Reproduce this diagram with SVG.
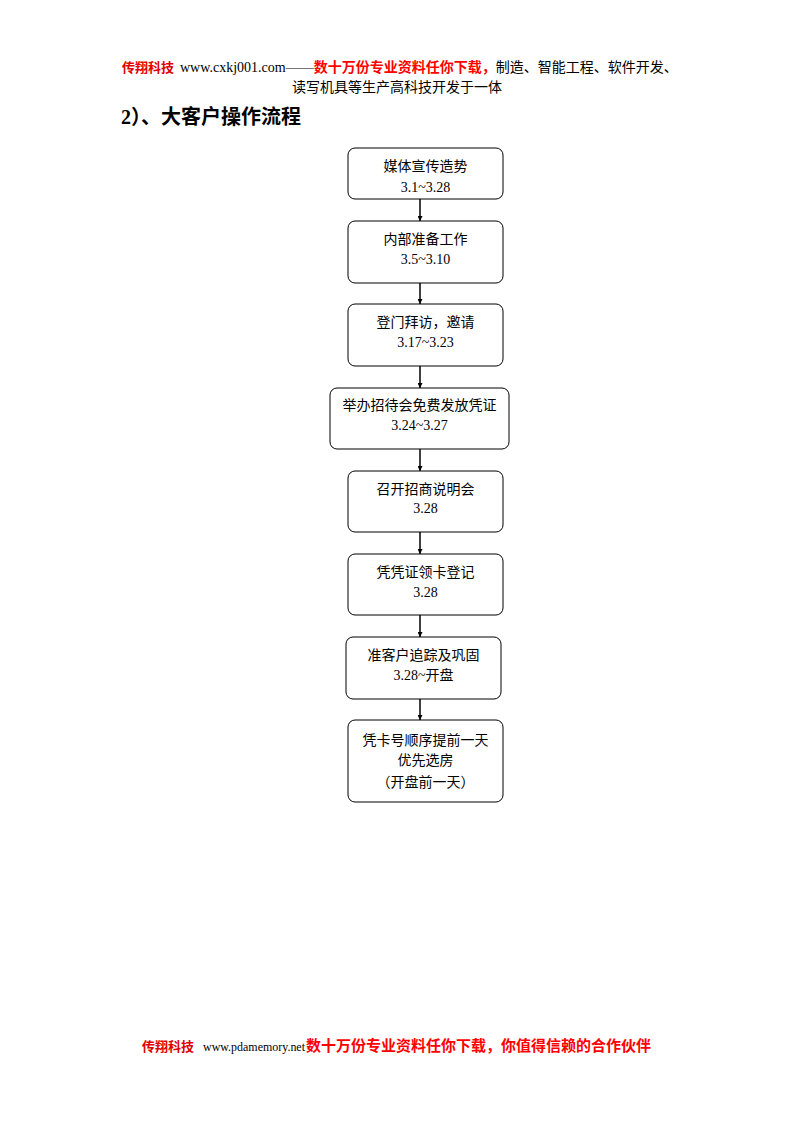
<svg xmlns="http://www.w3.org/2000/svg" width="794" height="1123" viewBox="0 0 794 1123">
<style>
.box{fill:#fff;stroke:#000;stroke-width:1}
.cn{font-family:"Liberation Serif","Noto Sans CJK SC",sans-serif;font-size:14px;fill:#000;text-anchor:middle}
.num{font-family:"Liberation Serif","Noto Sans CJK SC",serif;font-size:14px;fill:#000;text-anchor:middle}
.red{fill:#f00;font-weight:bold}
.hdr{font-family:"Liberation Serif","Noto Sans CJK SC",serif;font-size:14px;fill:#000}
.logo{font-family:"Noto Sans CJK SC",sans-serif;font-size:13px;font-weight:bold;fill:#e00000}
.conn{stroke:#000;stroke-width:1.5;fill:none}
</style>
<defs>
<marker id="ah" viewBox="0 0 8 8" refX="8" refY="4" markerWidth="5" markerHeight="5" orient="auto" markerUnits="userSpaceOnUse">
<path d="M0,0 L8,4 L0,8 z" fill="#000"/>
</marker>
</defs>
<rect width="794" height="1123" fill="#fff"/>
<g id="header">
<text class="logo" x="122" y="72">传翔科技</text>
<text class="hdr" x="180" y="72">www.cxkj001.com——<tspan class="red" font-family="Noto Sans CJK SC, sans-serif">数十万份专业资料任你下载，</tspan><tspan font-family="Noto Sans CJK SC, sans-serif">制造、智能工程、软件开发、</tspan></text>
<text class="hdr" x="397" y="92" text-anchor="middle" font-family="Noto Sans CJK SC, sans-serif">读写机具等生产高科技开发于一体</text>
<text x="121" y="124" font-family="Liberation Serif, Noto Sans CJK SC, serif" font-size="20" font-weight="bold" fill="#000">2<tspan font-family="Noto Sans CJK SC, serif">）、大客户操作流程</tspan></text>
</g>
<g id="connectors">
<line class="conn" x1="420" y1="199" x2="420" y2="221" marker-end="url(#ah)"/>
<line class="conn" x1="420" y1="283" x2="420" y2="304" marker-end="url(#ah)"/>
<line class="conn" x1="420" y1="366" x2="420" y2="388" marker-end="url(#ah)"/>
<line class="conn" x1="420" y1="449" x2="420" y2="471" marker-end="url(#ah)"/>
<line class="conn" x1="420" y1="532" x2="420" y2="554" marker-end="url(#ah)"/>
<line class="conn" x1="420" y1="615" x2="420" y2="637" marker-end="url(#ah)"/>
<line class="conn" x1="420" y1="699" x2="420" y2="720" marker-end="url(#ah)"/>
</g>
<g id="n1"><rect class="box" x="348" y="148" width="155" height="51" rx="7"/>
<text class="cn" x="425.5" y="171">媒体宣传造势</text><text class="num" x="425.5" y="192">3.1~3.28</text></g>
<g id="n2"><rect class="box" x="348" y="221" width="155" height="62" rx="7"/>
<text class="cn" x="425.5" y="244">内部准备工作</text><text class="num" x="425.5" y="264">3.5~3.10</text></g>
<g id="n3"><rect class="box" x="348" y="304" width="155" height="62" rx="7"/>
<text class="cn" x="425.5" y="327">登门拜访，邀请</text><text class="num" x="425.5" y="347">3.17~3.23</text></g>
<g id="n4"><rect class="box" x="330" y="388" width="179" height="61" rx="7"/>
<text class="cn" x="419.5" y="410">举办招待会免费发放凭证</text><text class="num" x="419.5" y="430">3.24~3.27</text></g>
<g id="n5"><rect class="box" x="348" y="471" width="155" height="61" rx="7"/>
<text class="cn" x="425.5" y="494">召开招商说明会</text><text class="num" x="425.5" y="513">3.28</text></g>
<g id="n6"><rect class="box" x="348" y="554" width="155" height="61" rx="7"/>
<text class="cn" x="425.5" y="577">凭凭证领卡登记</text><text class="num" x="425.5" y="597">3.28</text></g>
<g id="n7"><rect class="box" x="346" y="637" width="155" height="62" rx="7"/>
<text class="cn" x="423.5" y="660">准客户追踪及巩固</text><text class="num" x="423.5" y="680">3.28~<tspan font-family="Noto Sans CJK SC, sans-serif">开盘</tspan></text></g>
<g id="n8"><rect class="box" x="348" y="720" width="155" height="82" rx="7"/>
<text class="cn" x="425.5" y="745">凭卡号顺序提前一天</text><text class="cn" x="425.5" y="765">优先选房</text><text class="cn" x="425.5" y="787">（开盘前一天）</text></g>
<g id="footer">
<text class="logo" x="142" y="1051">传翔科技</text>
<text x="203" y="1051" font-family="Liberation Serif, serif" font-size="12" fill="#000" textLength="102" lengthAdjust="spacingAndGlyphs">www.pdamemory.net</text>
<text x="306" y="1051" font-family="Noto Sans CJK SC, sans-serif" font-size="15" font-weight="bold" fill="#f00">数十万份专业资料任你下载，你值得信赖的合作伙伴</text>
</g>
</svg>
